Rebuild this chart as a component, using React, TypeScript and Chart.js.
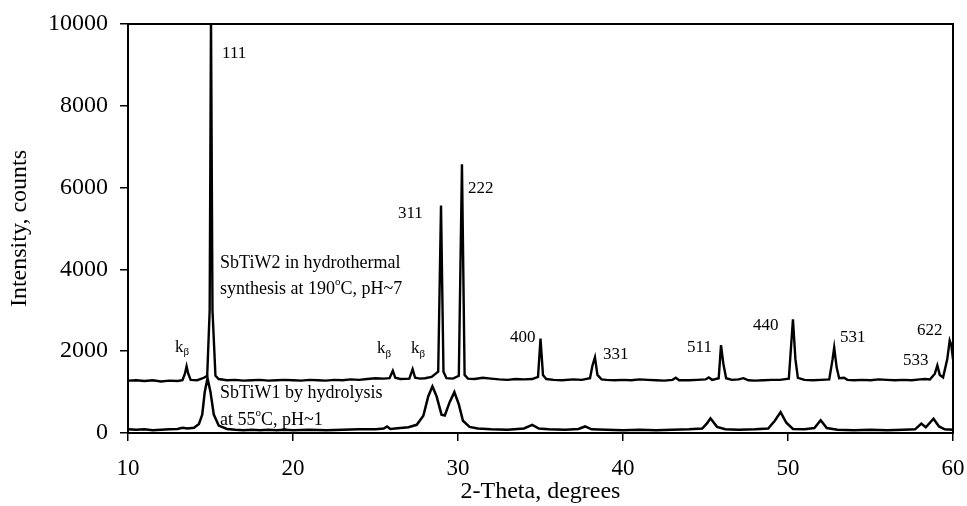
import React, { useEffect, useRef } from "react";
import { Chart, registerables } from "chart.js";
Chart.register(...registerables);

const xTicks = [10, 20, 30, 40, 50, 60];
const yTicks = [0, 2000, 4000, 6000, 8000, 10000];

// SbTiW2 (hydrothermal, upper pattern)
const w2X = [10.0, 10.5, 11.0, 11.5, 12.0, 12.5, 13.0, 13.3, 13.45, 13.55, 13.65, 13.8, 14.2, 14.6, 14.8, 14.95, 15.03, 15.12, 15.3, 15.5, 16.0, 16.5, 17.0, 17.5, 18.0, 18.5, 19.0, 19.5, 20.0, 20.5, 21.0, 21.5, 22.0, 22.5, 23.0, 23.5, 24.0, 24.5, 25.0, 25.5, 25.85, 26.05, 26.2, 26.5, 27.05, 27.25, 27.4, 27.7, 28.0, 28.4, 28.8, 28.97, 29.12, 29.3, 29.7, 30.05, 30.24, 30.4, 30.6, 31.0, 31.5, 32.0, 32.5, 33.0, 33.5, 34.0, 34.5, 34.85, 35.0, 35.15, 35.35, 35.8, 36.3, 37.0, 37.5, 38.0, 38.15, 38.3, 38.45, 38.7, 39.0, 39.5, 40.0, 40.5, 41.0, 41.5, 42.0, 42.5, 43.0, 43.2, 43.4, 44.0, 44.5, 45.0, 45.2, 45.4, 45.8, 45.94, 46.08, 46.25, 46.6, 47.0, 47.3, 47.6, 48.0, 48.5, 49.0, 49.5, 50.05, 50.2, 50.3, 50.45, 50.6, 51.0, 51.5, 52.0, 52.5, 52.7, 52.8, 52.95, 53.1, 53.4, 53.6, 54.0, 54.5, 55.0, 55.5, 56.0, 56.5, 57.0, 57.5, 58.0, 58.3, 58.6, 58.9, 59.05, 59.2, 59.4, 59.65, 59.8, 59.9, 60.0];
const w2Y = [1280, 1290, 1270, 1290, 1260, 1280, 1270, 1290, 1450, 1630, 1450, 1300, 1290, 1350, 1400, 3000, 10200, 3000, 1400, 1320, 1290, 1300, 1280, 1290, 1300, 1280, 1290, 1300, 1290, 1280, 1300, 1290, 1280, 1300, 1290, 1310, 1300, 1320, 1340, 1330, 1340, 1520, 1350, 1320, 1330, 1560, 1350, 1330, 1340, 1370, 1500, 5560, 1500, 1340, 1330, 1400, 6570, 1420, 1330, 1320, 1350, 1330, 1310, 1300, 1320, 1310, 1320, 1370, 2310, 1420, 1320, 1300, 1290, 1310, 1300, 1340, 1650, 1850, 1420, 1310, 1300, 1290, 1300, 1290, 1310, 1300, 1290, 1280, 1300, 1350, 1290, 1290, 1300, 1310, 1360, 1300, 1340, 2150, 1700, 1340, 1300, 1310, 1340, 1290, 1280, 1290, 1300, 1300, 1330, 2200, 2780, 1800, 1350, 1300, 1290, 1300, 1310, 1800, 2090, 1600, 1340, 1350, 1300, 1290, 1300, 1290, 1310, 1300, 1290, 1300, 1290, 1310, 1320, 1310, 1450, 1650, 1420, 1360, 1800, 2260, 2150, 1800];

// SbTiW1 (hydrolysis, lower pattern)
const w1X = [10.0, 10.5, 11.0, 11.5, 12.0, 12.5, 13.0, 13.3, 13.6, 14.0, 14.3, 14.5, 14.65, 14.82, 15.0, 15.2, 15.5, 16.0, 16.5, 17.0, 17.5, 18.0, 18.5, 19.0, 19.5, 20.0, 21.0, 22.0, 23.0, 24.0, 25.0, 25.5, 25.7, 25.9, 26.5, 27.0, 27.5, 27.9, 28.2, 28.45, 28.7, 29.0, 29.2, 29.5, 29.78, 30.05, 30.3, 30.7, 31.2, 32.0, 33.0, 34.0, 34.5, 34.9, 35.5, 36.5, 37.3, 37.7, 38.1, 39.0, 40.0, 41.0, 42.0, 43.0, 44.0, 44.8, 45.1, 45.3, 45.7, 46.2, 47.0, 48.0, 48.8, 49.2, 49.55, 49.9, 50.3, 51.0, 51.6, 51.98, 52.35, 53.0, 54.0, 55.0, 56.0, 57.0, 57.7, 58.08, 58.35, 58.82, 59.15, 59.5, 60.0];
const w1Y = [90, 80, 90, 70, 80, 90, 100, 130, 110, 130, 220, 450, 1000, 1340, 1000, 450, 180, 100, 80, 70, 80, 70, 80, 70, 80, 70, 80, 70, 80, 90, 90, 110, 160, 100, 120, 140, 200, 420, 900, 1140, 900, 450, 430, 760, 1000, 700, 300, 150, 110, 90, 80, 110, 200, 110, 90, 80, 100, 160, 90, 80, 70, 80, 70, 80, 90, 110, 240, 360, 150, 90, 80, 90, 110, 300, 510, 250, 100, 90, 120, 310, 120, 80, 70, 80, 70, 80, 90, 230, 140, 350, 160, 90, 80];

// peak index labels (left x in degrees, centre y in counts)
const peakLabels = ["111", "311", "222", "400", "331", "511", "440", "531", "533", "622"];
const peakLabelX = [15.7, 26.36, 30.61, 33.15, 38.79, 43.88, 47.88, 53.15, 56.97, 57.82];
const peakLabelY = [9284, 5372, 5983, 2340, 1924, 2095, 2633, 2340, 1775, 2512];

// k-beta labels
const kbX = [12.85, 25.09, 27.15];
const kbY = [2100, 2060, 2060];

// series captions
const captionX = [15.58, 15.58, 15.58, 15.58];
const captionY = [4160, 3523, 979, 318];
const captionText = [
  [["SbTiW2 in hydrothermal", "n"]],
  [["synthesis at 190", "n"], ["o", "sup"], ["C, pH~7", "n"]],
  [["SbTiW1 by hydrolysis", "n"]],
  [["at 55", "n"], ["o", "sup"], ["C, pH~1", "n"]],
];

const FONT = "'Liberation Serif', 'Times New Roman', serif";

function drawRich(ctx: CanvasRenderingContext2D, segs: string[][], x: number, y: number, size: number) {
  let cx = x;
  for (const [t, kind] of segs) {
    if (kind === "sup") {
      ctx.font = `${Math.round(size * 0.62)}px ${FONT}`;
      ctx.fillText(t, cx, y - size * 0.38);
    } else if (kind === "sub") {
      ctx.font = `${Math.round(size * 0.62)}px ${FONT}`;
      ctx.fillText(t, cx, y + size * 0.3);
    } else {
      ctx.font = `${size}px ${FONT}`;
      ctx.fillText(t, cx, y);
    }
    cx += ctx.measureText(t).width;
  }
}

const annotate = {
  id: "annotate",
  afterDatasetsDraw(chart: any) {
    const { ctx, chartArea, scales } = chart;
    const xs = scales.x, ys = scales.y;
    ctx.save();
    ctx.strokeStyle = "#000";
    ctx.lineWidth = 2;
    ctx.strokeRect(chartArea.left, chartArea.top, chartArea.right - chartArea.left, chartArea.bottom - chartArea.top);
    ctx.fillStyle = "#000";
    ctx.textBaseline = "middle";
    ctx.textAlign = "left";
    ctx.font = `17px ${FONT}`;
    peakLabels.forEach((t, i) => {
      ctx.fillText(t, xs.getPixelForValue(peakLabelX[i]), ys.getPixelForValue(peakLabelY[i]));
    });
    kbX.forEach((v, i) => {
      drawRich(ctx, [["k", "n"], ["β", "sub"]], xs.getPixelForValue(v), ys.getPixelForValue(kbY[i]), 17);
    });
    captionText.forEach((segs, i) => {
      drawRich(ctx, segs, xs.getPixelForValue(captionX[i]), ys.getPixelForValue(captionY[i]), 18);
    });
    ctx.restore();
  },
};

export default function App() {
  const ref = useRef<HTMLCanvasElement>(null);
  useEffect(() => {
    if (!ref.current) return;
    const chart = new Chart(ref.current, {
      type: "scatter",
      data: {
        datasets: [
          {
            label: "SbTiW2",
            data: w2X.map((x, i) => ({ x, y: w2Y[i] })),
            showLine: true,
            borderColor: "#000",
            borderWidth: 2.4,
            pointRadius: 0,
            tension: 0,
          },
          {
            label: "SbTiW1",
            data: w1X.map((x, i) => ({ x, y: w1Y[i] })),
            showLine: true,
            borderColor: "#000",
            borderWidth: 2.5,
            pointRadius: 0,
            tension: 0,
          },
        ],
      },
      options: {
        animation: false,
        responsive: false,
        layout: { padding: { top: 24, right: 14, left: 0, bottom: 0 } },
        plugins: { legend: { display: false }, tooltip: { enabled: false } },
        scales: {
          x: {
            type: "linear",
            min: 10,
            max: 60,
            afterBuildTicks: (s: any) => { s.ticks = xTicks.map((v) => ({ value: v })); },
            afterFit: (s: any) => { s.height = 73; s.paddingRight = 0; s.paddingLeft = 0; },
            ticks: {
              color: "#000",
              font: { family: FONT, size: 23 },
              padding: 14,
              maxRotation: 0,
              callback: (v: any) => String(v),
            },
            grid: { drawOnChartArea: false, drawTicks: true, tickLength: 8, color: "#000", lineWidth: 1.5 },
            border: { display: true, color: "#000", width: 2 },
            title: {
              display: true,
              text: "2-Theta, degrees",
              color: "#000",
              font: { family: FONT, size: 24 },
              padding: { top: 0, bottom: 0 },
            },
          },
          y: {
            type: "linear",
            min: 0,
            max: 10000,
            afterBuildTicks: (s: any) => { s.ticks = yTicks.map((v) => ({ value: v })); },
            afterFit: (s: any) => { s.width = 128; s.paddingTop = 0; s.paddingBottom = 0; },
            ticks: {
              color: "#000",
              font: { family: FONT, size: 24 },
              padding: 12,
              callback: (v: any) => String(v),
            },
            grid: { drawOnChartArea: false, drawTicks: true, tickLength: 8, color: "#000", lineWidth: 1.5 },
            border: { display: true, color: "#000", width: 2 },
            title: {
              display: true,
              text: "Intensity, counts",
              color: "#000",
              font: { family: FONT, size: 24 },
              padding: { top: 5, bottom: 0 },
            },
          },
        },
      },
      plugins: [annotate],
    });
    return () => chart.destroy();
  }, []);
  return (
    <div style={{ position: "fixed", left: 0, top: 0, width: 967, height: 506, background: "#fff" }}>
      <canvas ref={ref} width={967} height={506} />
    </div>
  );
}
